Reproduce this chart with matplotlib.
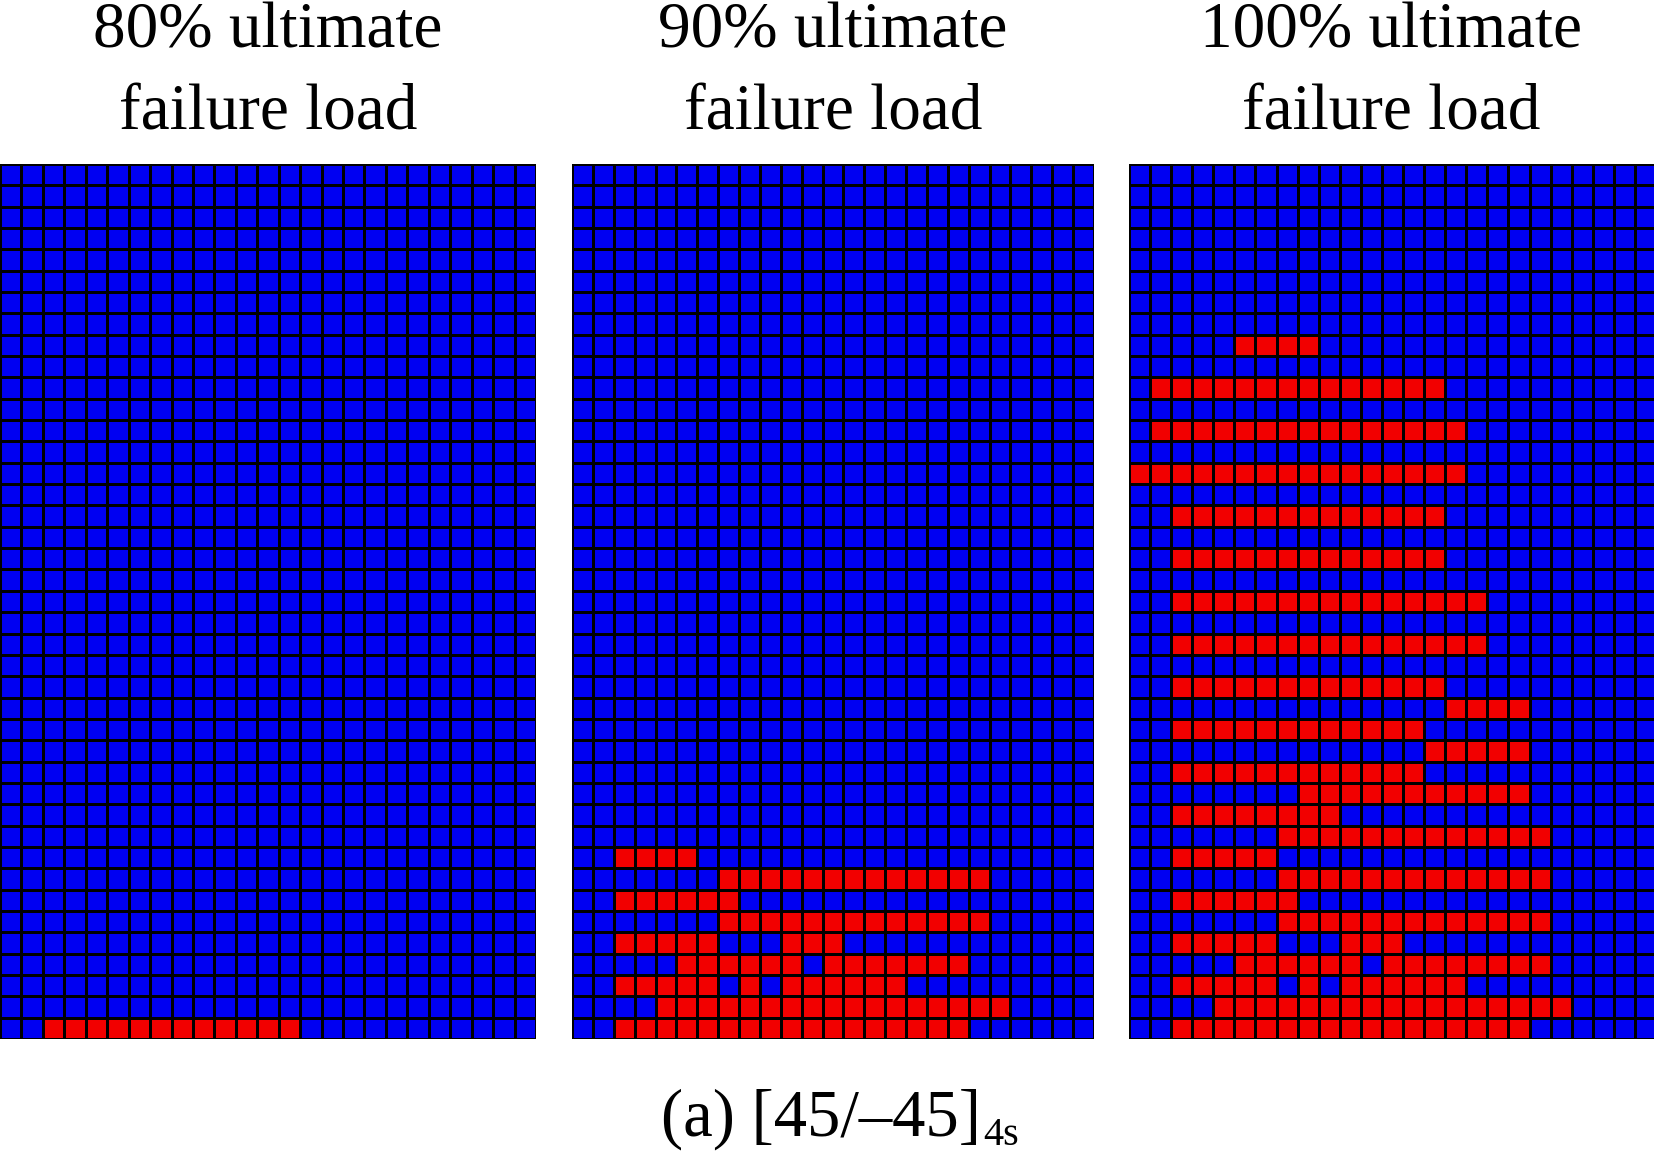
import numpy as np
import matplotlib
matplotlib.use("Agg")
import matplotlib.pyplot as plt
from matplotlib.colors import ListedColormap

# ---------------- data ----------------
n_rows = 41
n_cols = 25
titles = ["80% ultimate\nfailure load", "90% ultimate\nfailure load", "100% ultimate\nfailure load"]
caption_main = "(a) [45/\u201345]"
caption_sub = "4s"

# failed (red) element runs: (row from top, first column, last column)
panel1_runs = [(40, 2, 13)]
panel2_runs = [(32, 2, 5), (33, 7, 19), (34, 2, 7), (35, 7, 19), (36, 2, 6), (36, 10, 12),
               (37, 5, 10), (37, 12, 18), (38, 2, 6), (38, 8, 8), (38, 10, 15),
               (39, 4, 20), (40, 2, 18)]
panel3_runs = [(8, 5, 8), (10, 1, 14), (12, 1, 15), (14, 0, 15), (16, 2, 14), (18, 2, 14),
               (20, 2, 16), (22, 2, 16), (24, 2, 14), (25, 15, 18), (26, 2, 13), (27, 14, 18),
               (28, 2, 13), (29, 8, 18), (30, 2, 9), (31, 7, 19), (32, 2, 6), (33, 7, 19),
               (34, 2, 7), (35, 7, 19), (36, 2, 6), (36, 10, 12), (37, 5, 10), (37, 12, 19),
               (38, 2, 6), (38, 8, 8), (38, 10, 15), (39, 4, 20), (40, 2, 18)]
all_runs = [panel1_runs, panel2_runs, panel3_runs]

# ---------------- style ----------------
plt.rcParams['font.family'] = ['Liberation Serif', 'DejaVu Serif']
cmap = ListedColormap(['#0000F2', '#F20000'])

fig = plt.figure(figsize=(16.54, 11.56), dpi=100)
fig.patch.set_facecolor('white')

W, H = 1654.0, 1156.0
panel_x = [(0, 536), (572, 1094), (1129, 1656)]
top_px, bot_px = 164, 1039

for i, (runs, title) in enumerate(zip(all_runs, titles)):
    x0, x1 = panel_x[i]
    ax = fig.add_axes([x0 / W, 1 - bot_px / H, (x1 - x0) / W, (bot_px - top_px) / H])
    grid = np.zeros((n_rows, n_cols))
    for r, c0, c1 in runs:
        grid[r, c0:c1 + 1] = 1
    ax.pcolormesh(np.arange(n_cols + 1), np.arange(n_rows + 1), grid, cmap=cmap,
                  vmin=0, vmax=1, edgecolors='black', linewidth=0.8)
    ax.set_xlim(0, n_cols)
    ax.set_ylim(n_rows, 0)
    ax.axis('off')
    xc = (x0 + min(x1, 1654)) / 2 / W
    lines = title.split("\n")
    fig.text(xc, 1 - 48 / H, lines[0], ha='center', va='baseline', fontsize=47)
    fig.text(xc, 1 - 130 / H, lines[1], ha='center', va='baseline', fontsize=47)

# caption with subscript
cx = (572 + 1094) / 2 / W
fig.canvas.draw()
renderer = fig.canvas.get_renderer()
t = fig.text(cx - 0.007, 1 - 1136 / H, caption_main, ha='center', va='baseline', fontsize=48)
bb = t.get_window_extent(renderer=renderer)
fig.text(bb.x1 / W + 0.001, 1 - 1145 / H, caption_sub, ha='left', va='baseline', fontsize=29)

fig.savefig("out.png", dpi=100, facecolor='white')
